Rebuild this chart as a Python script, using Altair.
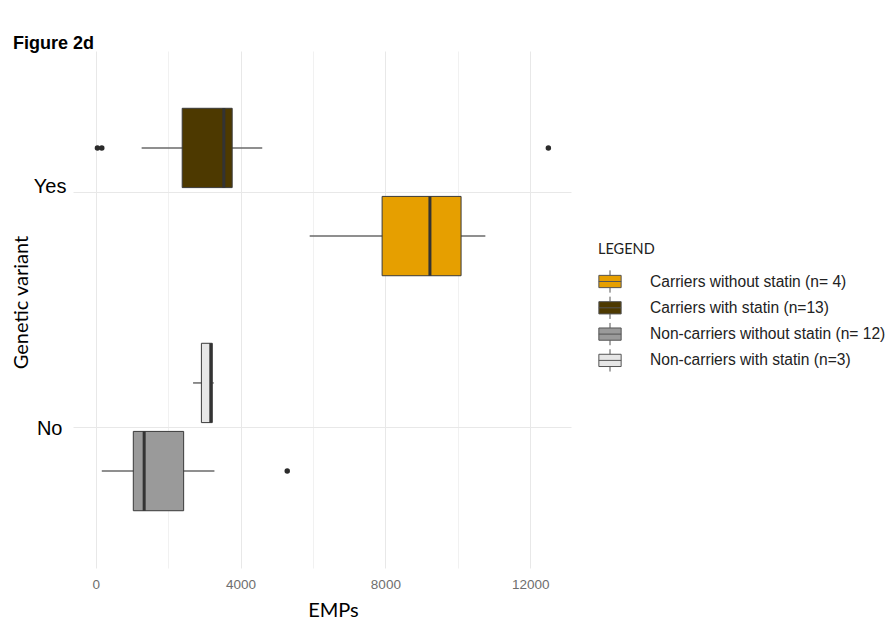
import altair as alt
import pandas as pd

# ---- data ----
groups = ["Carriers without statin (n= 4)", "Carriers with statin (n=13)",
          "Non-carriers without statin (n= 12)", "Non-carriers with statin (n=3)"]
variant = ["Yes", "Yes", "No", "No"]
statin = ["without", "with", "without", "with"]
whisker_lo = [5910, 1270, 170, 2690]
q1 = [7910, 2390, 1040, 2920]
median = [9230, 3540, 1340, 3180]
q3 = [10090, 3770, 2430, 3220]
whisker_hi = [10760, 4600, 3280, 3260]

outlier_group = ["Carriers with statin (n=13)", "Carriers with statin (n=13)",
                 "Carriers with statin (n=13)", "Non-carriers without statin (n= 12)"]
outlier_value = [50, 170, 12500, 5290]

colors = ["#E69F00", "#4D3900", "#9A9A9A", "#E6E6E6"]
x_ticks = [0, 2000, 4000, 6000, 8000, 10000, 12000]

box_df = pd.DataFrame({"group": groups, "variant": variant, "statin": statin,
                       "lo": whisker_lo, "q1": q1, "median": median, "q3": q3,
                       "hi": whisker_hi})
g2v = dict(zip(groups, variant))
g2s = dict(zip(groups, statin))
out_df = pd.DataFrame({"group": outlier_group, "value": outlier_value})
out_df["variant"] = out_df["group"].map(g2v)
out_df["statin"] = out_df["group"].map(g2s)

xscale = alt.Scale(domain=[-625, 13125], nice=False, zero=False)
yscale = alt.Scale(domain=["Yes", "No"], paddingInner=0.25, paddingOuter=0.225)
oscale = alt.Scale(domain=["with", "without"], paddingInner=0.1, paddingOuter=0.05)

x_axis = alt.Axis(
    values=x_ticks, title="EMPs", grid=True, format="d",
    gridColor={"condition": {"test": "datum.value % 4000 === 0", "value": "#e8e8e8"},
               "value": "#f1f1f1"},
    gridWidth=1, domain=False, ticks=False, tickSize=0,
    labelExpr="datum.value % 4000 === 0 ? datum.label : ''",
    labelFont="Liberation Sans", labelFontSize=13.5, labelColor="#6e6e6e",
    labelPadding=9, titleFont="Lato", titleFontSize=20, titleFontWeight="normal",
    titleColor="black", titleX=260, titleY=48, titleBaseline="alphabetic",
    titleAlign="center")

y_axis = alt.Axis(
    title="Genetic variant", grid=True, gridColor="#e8e8e8", bandPosition=0.5,
    domain=False, ticks=False, tickSize=0,
    labelFont="Liberation Sans", labelFontSize=20, labelColor="black",
    labelBaseline="alphabetic",
    labelOffset={"condition": {"test": "datum.value === 'No'", "value": 8}, "value": 1},
    labelPadding={"condition": {"test": "datum.value === 'No'", "value": 11}, "value": 7},
    titleFont="Lato", titleFontSize=20, titleFontWeight="normal", titleColor="black",
    titleAngle=-90, titleX=-52, titleY=251, titleBaseline="middle", titleAlign="center")

base = alt.Chart(box_df)

Y = alt.Y("variant:N", scale=yscale, axis=y_axis)
YO = alt.YOffset("statin:N", scale=oscale)

whisk = base.mark_rule(color="#6a6a6a", strokeWidth=1.5).encode(
    x=alt.X("lo:Q", scale=xscale, axis=x_axis), x2="hi:Q", y=Y, yOffset=YO)

sym_path = "M-1,-0.55H1V0.55H-1Z M-1,0H1 M0,-0.55V-1 M0,0.55V1"

boxes = base.mark_bar(stroke="#3a3a3a", strokeWidth=1, opacity=1).encode(
    x=alt.X("q1:Q", scale=xscale, axis=x_axis), x2="q3:Q", y=Y, yOffset=YO,
    color=alt.Color("group:N", scale=alt.Scale(domain=groups, range=colors),
                    legend=alt.Legend(
                        title="LEGEND", orient="none", legendX=525, legendY=192,
                        titleFont="Lato", titleFontSize=14.5, titleFontWeight="normal",
                        titleColor="#222222", titlePadding=12,
                        labelFont="Liberation Sans", labelFontSize=15.6,
                        labelColor="#222222", labelOffset=28, labelLimit=0,
                        symbolType=sym_path, symbolSize=497,
                        symbolStrokeColor="#555555", symbolStrokeWidth=1,
                        symbolOpacity=1, rowPadding=-1.7)))

med = base.mark_bar(stroke="#333333", strokeWidth=3, fillOpacity=0).encode(
    x=alt.X("median:Q", scale=xscale, axis=x_axis), x2="median:Q", y=Y, yOffset=YO)

pts = alt.Chart(out_df).mark_circle(size=30, color="#2b2b2b", opacity=1).encode(
    x=alt.X("value:Q", scale=xscale, axis=x_axis), y=Y, yOffset=YO)

chart = alt.layer(whisk, boxes, med, pts).properties(
    width=498, height=517,
    title=alt.TitleParams("Figure 2d", anchor="start", frame="group", dx=-60,
                          offset=3, dy=19, baseline="alphabetic", font="Liberation Sans",
                          fontSize=18, fontWeight="bold", color="black"),
    autosize=alt.AutoSizeParams(type="none"),
    padding={"left": 65, "top": 43, "right": 317, "bottom": 51},
).configure_view(stroke=None)

chart.save("out.html", embed_options={"renderer": "svg", "actions": False})
